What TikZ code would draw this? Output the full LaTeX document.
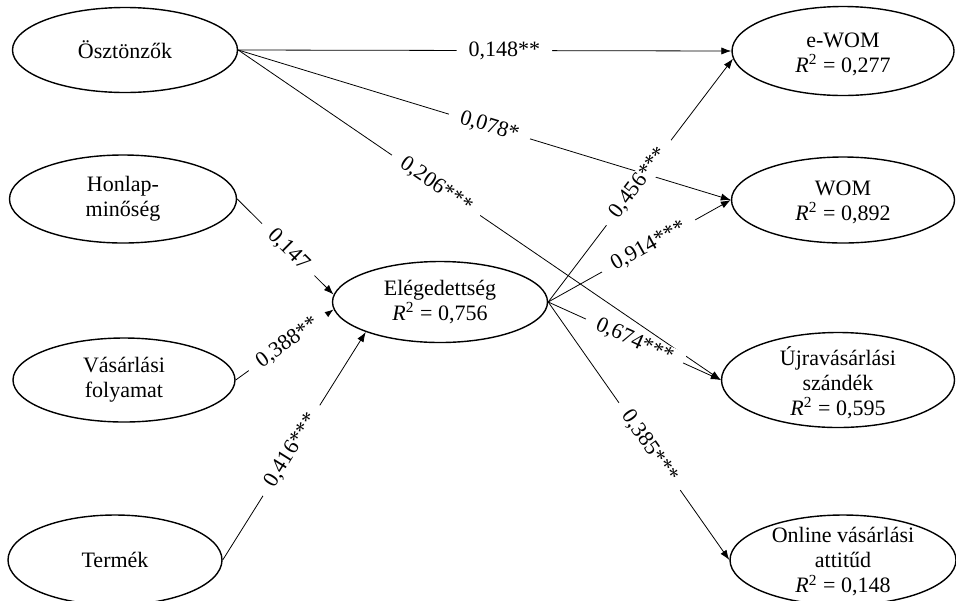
\documentclass[tikz,border=0pt]{standalone}
\usepackage{fontspec}
\setmainfont{Liberation Serif}
\usetikzlibrary{arrows.meta,shapes.geometric}
\begin{document}
\begin{tikzpicture}[x=0.5pt,y=-0.5pt,
  lat/.style={ellipse, draw, line width=0.7pt, inner sep=0pt},
  txt/.style={align=center, font=\fontsize{11}{12.5}\selectfont},
  arr/.style={line width=0.4pt, -{Latex[length=5pt,width=3.6pt]}},
  coef/.style={sloped, fill=white, inner xsep=6pt, inner ysep=0.5pt, font=\fontsize{11}{13}\selectfont}]
\useasboundingbox (0,0) rectangle (956,600);
\newcommand{\rsq}[1]{\textit{R}\textsuperscript{2} = #1}
% latent variables
\node[lat, minimum width=112.5pt, minimum height=42.5pt,
      label={[txt]center:Ösztönzők}] (osz) at (125,50) {};
\node[lat, minimum width=113.5pt, minimum height=44pt,
      label={[txt]center:{Honlap-\\minőség}}] (hon) at (123,199) {};
\node[lat, minimum width=111pt, minimum height=42pt,
      label={[txt]center:{Vásárlási\\folyamat}}] (vas) at (124,380) {};
\node[lat, minimum width=107pt, minimum height=45pt,
      label={[txt]center:Termék}] (ter) at (115,560) {};
\node[lat, minimum width=107.5pt, minimum height=40.5pt,
      label={[txt]center:{Elégedettség\\\rsq{0,756}}}] (elg) at (440,302) {};
\node[lat, minimum width=111pt, minimum height=44.5pt,
      label={[txt,yshift=-1.5pt]center:{e-WOM\\\rsq{0,277}}}] (ewom) at (843,51) {};
\node[lat, minimum width=111.5pt, minimum height=43pt,
      label={[txt,yshift=-1pt]center:{WOM\\\rsq{0,892}}}] (wom) at (843,200) {};
\node[lat, minimum width=116.5pt, minimum height=47.5pt,
      label={[txt,yshift=-1.5pt]center:{Újravásárlási\\szándék\\\rsq{0,595}}}] (ujra) at (838,380) {};
\node[lat, minimum width=113pt, minimum height=45pt,
      label={[txt,yshift=-1pt]center:{Online vásárlási\\attitűd\\\rsq{0,148}}}] (onl) at (843,560) {};
% paths
\draw[arr] (osz.east) -- node[coef, pos=0.54] {0,148**} (ewom.west);
\draw[arr] (osz.east) -- node[coef, pos=0.51] {0,078*} (wom.west);
\draw[arr] (osz.east) -- node[coef, pos=0.41] {0,206***} (ujra.west);
\draw[arr] (hon.east) -- node[coef, pos=0.53] {0,147} (elg.176);
\draw[arr] (vas.east) -- node[coef, pos=0.53] {0,388**} (elg.184);
\draw[arr] (ter.east) -- node[coef, pos=0.48] {0,416***} (elg.202);
\draw[arr] (elg.east) -- node[coef, pos=0.55] {0,914***} (wom.west);
\draw[arr] (elg.east) -- node[coef, pos=0.50] {0,674***} (ujra.west);
\draw[arr] (elg.east) -- node[coef, pos=0.56] {0,385***} (onl.west);
\draw[arr] (elg.east) -- node[coef, pos=0.49] {0,456***} (ewom.184);
\end{tikzpicture}
\end{document}
